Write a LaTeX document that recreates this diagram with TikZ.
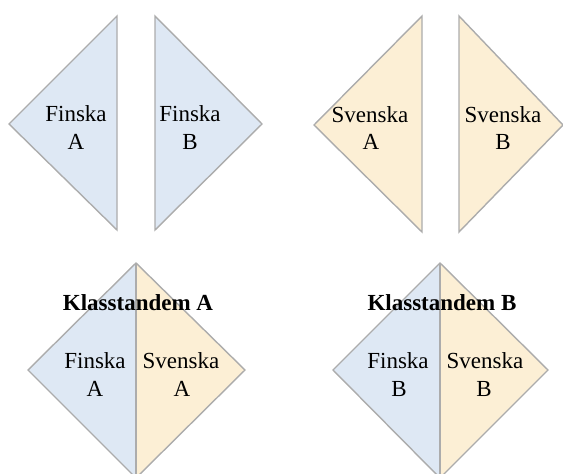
\documentclass[tikz,border=0pt]{standalone}
\usepackage{fontspec}
\setmainfont{Liberation Serif}
\definecolor{fiblue}{RGB}{222,232,244}
\definecolor{svbeige}{RGB}{252,239,213}
\definecolor{edge}{RGB}{172,172,172}
\tikzset{
  half/.style={draw=edge, line width=1.4pt, line join=miter},
  lbl/.style={anchor=base, inner sep=0pt, font=\fontsize{23}{28}\selectfont},
  head/.style={anchor=base, inner sep=0pt, font=\fontsize{23}{28}\selectfont\bfseries},
}
\begin{document}
\begin{tikzpicture}[x=1pt, y=-1pt]
\useasboundingbox (0,0) rectangle (563,474);
\clip (0,0) rectangle (563,474);
% top row
\fill[fiblue] (117,16) -- (9,124) -- (117,230) -- cycle;
\draw[half] (117,16) -- (9,124) -- (117,230) -- cycle;
\fill[fiblue] (155,16) -- (262,124) -- (155,230) -- cycle;
\draw[half] (155,16) -- (262,124) -- (155,230) -- cycle;
\fill[svbeige] (422,16) -- (314,125) -- (422,232) -- cycle;
\draw[half] (422,16) -- (314,125) -- (422,232) -- cycle;
\fill[svbeige] (459,16) -- (563,125) -- (459,232) -- cycle;
\draw[half] (459,16) -- (563,125) -- (459,232) -- cycle;
% bottom row
\fill[fiblue] (136,263) -- (28,370) -- (136,478) -- cycle;
\fill[svbeige] (136,263) -- (245,370) -- (136,478) -- cycle;
\draw[half] (136,263) -- (28,370) -- (136,478) -- (245,370) -- cycle;
\draw[half] (136,263) -- (136,478);
\fill[fiblue] (440,263) -- (333,370) -- (440,478) -- cycle;
\fill[svbeige] (440,263) -- (548,370) -- (440,478) -- cycle;
\draw[half] (440,263) -- (333,370) -- (440,478) -- (548,370) -- cycle;
\draw[half] (440,263) -- (440,478);
% labels top
\node[lbl] (fa1) at (76,121) {Finska};
\node[lbl] (fa2) at (76,149) {A};
\node[lbl] (fb1) at (190,121) {Finska};
\node[lbl] (fb2) at (190,149) {B};
\node[lbl] (sa1) at (370,122) {Svenska};
\node[lbl] (sa2) at (371,149) {A};
\node[lbl] (sb1) at (503,122) {Svenska};
\node[lbl] (sb2) at (503,149) {B};
% labels bottom
\node[head] (ka) at (138,310) {Klasstandem A};
\node[lbl] (kfa1) at (95,368) {Finska};
\node[lbl] (kfa2) at (95,396) {A};
\node[lbl] (ksa1) at (181,368) {Svenska};
\node[lbl] (ksa2) at (182,396) {A};
\node[head] (kb) at (442,310) {Klasstandem B};
\node[lbl] (kfb1) at (398,368) {Finska};
\node[lbl] (kfb2) at (399,396) {B};
\node[lbl] (ksb1) at (485,368) {Svenska};
\node[lbl] (ksb2) at (484,396) {B};
\end{tikzpicture}
\end{document}
